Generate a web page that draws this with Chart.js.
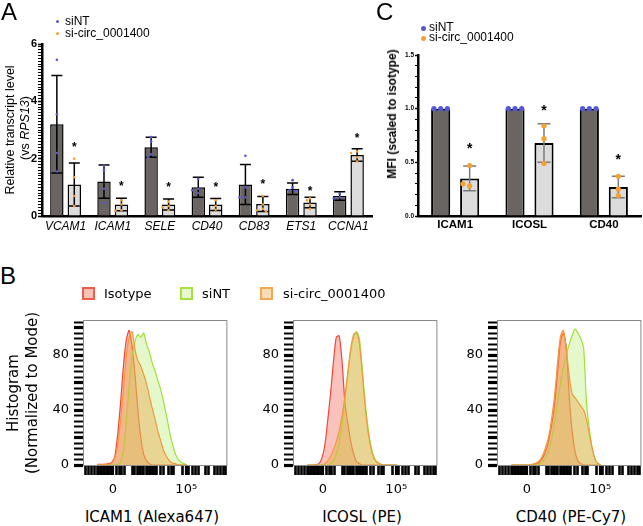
<!DOCTYPE html>
<html>
<head>
<meta charset="utf-8">
<script src="https://cdn.jsdelivr.net/npm/chart.js@4.4.1/dist/chart.umd.min.js"></script>
<style>
  body { margin: 0; width: 643px; height: 526px; position: relative; overflow: hidden; background: #fff;
         font-family: 'Liberation Sans', Arial, sans-serif; color: #000; }
  canvas { position: absolute; }
  .t   { position: absolute; white-space: nowrap; line-height: 1; }
  .c   { position: absolute; white-space: nowrap; line-height: 1; transform: translate(-50%, -50%); }
  .rot { position: absolute; white-space: nowrap; line-height: 1; transform: translate(-50%, -50%) rotate(-90deg); }
  .dot { position: absolute; border-radius: 50%; }
  .box { position: absolute; width: 9px; height: 9px; border: 2px solid; }
  .dj  { font-family: 'DejaVu Sans', sans-serif; }
</style>
</head>
<body>

<canvas id="chartA" width="375" height="240" style="left:0;top:0"></canvas>
<canvas id="chartC" width="263" height="240" style="left:380px;top:0"></canvas>
<canvas id="hist1" width="195" height="205" style="left:38px;top:300px"></canvas>
<canvas id="hist2" width="195" height="205" style="left:248px;top:300px"></canvas>
<canvas id="hist3" width="195" height="205" style="left:452px;top:300px"></canvas>

<!-- panel letters -->
<div class="t" style="left:1px;top:0;font-size:24px">A</div>
<div class="t" style="left:376px;top:0;font-size:24px">C</div>
<div class="t" style="left:0;top:264px;font-size:24px">B</div>

<!-- panel A legend + y title -->
<div class="dot" style="left:55.5px;top:19.5px;width:3px;height:3px;background:#5558d6"></div>
<div class="t" style="left:65px;top:15px;font-size:12px">siNT</div>
<div class="dot" style="left:55.5px;top:31.5px;width:3px;height:3px;background:#f5a030"></div>
<div class="t" style="left:65px;top:27px;font-size:12px">si-circ_0001400</div>
<div class="rot" style="left:10px;top:130px;font-size:12.5px">Relative transcript level</div>
<div class="rot" style="left:25px;top:128px;font-size:12.5px">(vs <i>RPS13</i>)</div>

<!-- panel C legend + y title -->
<div class="dot" style="left:420.5px;top:25.5px;width:5px;height:5px;background:#5558d6"></div>
<div class="t" style="left:429px;top:21px;font-size:12px">siNT</div>
<div class="dot" style="left:420.5px;top:35.5px;width:5px;height:5px;background:#f5a030"></div>
<div class="t" style="left:429px;top:31px;font-size:12px">si-circ_0001400</div>
<div class="rot" style="left:392px;top:114px;font-size:12px;font-weight:bold">MFI (scaled to isotype)</div>

<!-- panel B legend + titles -->
<div class="box" style="left:82px;top:287px;border-color:#f25a4a;background:#f7c2b5"></div>
<div class="t dj" style="left:104px;top:287px;font-size:13px">Isotype</div>
<div class="box" style="left:180px;top:287px;border-color:#a6e23e;background:#e6f8cc"></div>
<div class="t dj" style="left:202px;top:287px;font-size:13px">siNT</div>
<div class="box" style="left:260px;top:287px;border-color:#f2a850;background:#f8deb6"></div>
<div class="t dj" style="left:283px;top:287px;font-size:13px">si-circ_0001400</div>
<div class="rot dj" style="left:13px;top:393px;font-size:15px">Histogram</div>
<div class="rot dj" style="left:32px;top:393px;font-size:15px">(Normalized to Mode)</div>
<div class="c dj" style="left:152px;top:517px;font-size:15px">ICAM1 (Alexa647)</div>
<div class="c dj" style="left:362px;top:517px;font-size:15px">ICOSL (PE)</div>
<div class="c dj" style="left:571px;top:517px;font-size:15px">CD40 (PE-Cy7)</div>

<script>
// ── Panel A: relative transcript level ──────────────────────────────────────
const genesA  = ['VCAM1', 'ICAM1', 'SELE', 'CD40', 'CD83', 'ETS1', 'CCNA1'];
const ntMeanA = [3.2, 1.2, 2.4, 1.0, 1.1, 0.95, 0.7];
const ntSdA   = [1.7, 0.58, 0.35, 0.35, 0.7, 0.2, 0.15];
const siMeanA = [1.1, 0.4, 0.4, 0.4, 0.42, 0.47, 2.13];
const siSdA   = [0.75, 0.22, 0.19, 0.21, 0.26, 0.18, 0.22];
const ntPtsA  = [[5.45, 3.55, 2.2, 1.55], [1.75, 1.6, 0.95, 0.45], [2.75, 2.6, 2.15, 2.05],
                 [1.3, 0.95, 0.9, 0.8], [2.1, 1.0, 0.65, 0.65], [1.25, 1.0, 0.9, 0.87], [0.78, 0.65, 0.62]];
const siPtsA  = [[2.0, 1.35, 0.7, 0.35], [0.55, 0.4, 0.2, 0.18], [0.5, 0.35, 0.3, 0.2],
                 [0.55, 0.35, 0.22], [0.7, 0.4, 0.25, 0.2, 0.15], [0.62, 0.55, 0.4, 0.25], [2.25, 2.2, 2.05, 1.9]];
const starsA  = [2.5, 1.15, 1.1, 1.1, 1.2, 0.98, 2.82];

// ── Panel C: MFI scaled to isotype ──────────────────────────────────────────
const markersC = ['ICAM1', 'ICOSL', 'CD40'];
const ntMeanC  = [1.0, 1.0, 1.0];
const ntPtsC   = [[1, 1, 1], [1, 1, 1], [1, 1, 1]];
const siMeanC  = [0.35, 0.68, 0.27];
const siSdC    = [0.115, 0.18, 0.10];
const siPtsC   = [[0.28, 0.47, 0.30], [0.84, 0.72, 0.49], [0.37, 0.25, 0.19]];
const starsC   = [0.66, 1.01, 0.56];

// ── Panel B: flow histograms (x in display units 0–100, y = % of mode) ─────
const histX = [10, 14, 18, 20, 22, 24, 26, 28, 30, 32, 34, 36, 38, 40, 42,
               44, 46, 48, 50, 52, 54, 56, 58, 60, 62, 64, 66, 68, 70, 72];
const icamIso = [0.5, 0.5, 1, 2, 6, 22, 45, 72, 91, 98, 86, 66, 40, 20, 8, 3, 1, 0, 0, 0, 0, 0, 0, 0, 0, 0, 0, 0, 0, 0];
const icamNT  = [0, 0, 0, 0, 0, 0.5, 2, 10, 32, 58, 79, 90, 95, 93, 96, 88, 82, 74, 68, 61, 54, 45, 35, 24, 15, 8, 4, 2, 1, 0];
const icamSi  = [0, 0.3, 0.5, 1.5, 5, 14, 32, 55, 79, 93, 97, 84, 76, 72, 66, 59, 50, 41, 33, 24, 17, 10, 6, 3, 1.5, 1, 0, 0, 0, 0];
const icosIso = [0, 0, 1, 5, 14, 32, 52, 75, 93, 94, 75, 45, 30, 17, 8, 2.5, 1, 0, 0, 0, 0, 0, 0, 0, 0, 0, 0, 0, 0, 0];
const icosNT  = [0, 0, 0, 0, 0, 0, 1, 3, 8, 16, 30, 48, 66, 83, 93, 97, 92, 70, 46, 27, 14, 6, 2.5, 1, 0, 0, 0, 0, 0, 0];
const icosSi  = [0, 0, 0, 0, 1, 3, 6, 11, 17, 25, 36, 50, 68, 85, 95, 96, 88, 66, 42, 24, 12, 5, 2, 1, 0, 0, 0, 0, 0, 0];
const cd40Iso = [0, 0, 0, 0, 0, 0, 0.5, 1, 3, 6, 11, 19, 30, 45, 68, 90, 96, 85, 50, 25, 10, 3, 1, 0, 0, 0, 0, 0, 0, 0];
const cd40NT  = [0, 0, 0, 0, 0, 0, 0, 0.5, 1, 3, 6, 11, 20, 32, 46, 60, 72, 80, 88, 94, 99, 96, 92, 85, 45, 26, 12, 4, 1, 0];
const cd40Si  = [0, 0, 0, 0, 0, 0.5, 1, 2, 4, 8, 14, 22, 35, 52, 75, 94, 98, 84, 65, 52, 49, 46, 43, 40, 33, 22, 12, 4, 1, 0];

// logicle-style tick marks along the bottom, and the two labelled ones
const histTickPos  = [2, 4, 6, 8, 10, 11, 12, 13, 14, 15, 16, 17, 18, 19, 20.7, 23, 25, 27, 29,
                      34, 36, 38, 39, 40, 41, 42, 44, 45, 46, 47, 48, 49, 50, 51, 54, 56, 59, 61, 63,
                      69, 71.5, 73, 76, 78, 80, 85, 87, 91, 93, 95, 97, 99];
const histTickVals = [20.7, 71.5];
const histTickText = ['0', '10\u2075'];

// ── Colours ─────────────────────────────────────────────────────────────────
const DARK   = '#6a6562';
const LIGHT  = '#dcdcdc';
const BLUE   = '#5558d6';
const ORANGE = '#f5a030';

Chart.defaults.font.family = "'Liberation Sans', Arial, sans-serif";
Chart.defaults.color = '#000';

// simple swarm: put each dot at the first x slot that doesn't collide
function swarm(pys, r, step) {
  const placed = [];
  const slots = [0, -1, 1, -2, 2, -3, 3];
  return pys.map(py => {
    let off = 0;
    for (const s of slots) {
      const ox = s * step;
      if (!placed.some(p => Math.hypot(p.x - ox, p.y - py) < 2 * r + 0.8)) { off = ox; break; }
    }
    placed.push({ x: off, y: py });
    return off;
  });
}

// error bars, individual replicates and significance stars on top of the bars
function makeOverlay(name, groups, style) {
  return {
    id: 'overlay' + name,
    afterDatasetsDraw(chart) {
      const ctx = chart.ctx;
      const ys  = chart.scales.y;
      groups.forEach((g, di) => {
        const meta = chart.getDatasetMeta(di);
        meta.data.forEach((bar, i) => {
          const x = bar.x;
          ctx.save();
          if (g.sd) {
            const yt = ys.getPixelForValue(g.mean[i] + g.sd[i]);
            const yb = ys.getPixelForValue(g.mean[i] - g.sd[i]);
            ctx.strokeStyle = g.errColor;
            ctx.lineWidth   = style.errWidth;
            ctx.beginPath();
            ctx.moveTo(x, yt); ctx.lineTo(x, yb);
            ctx.moveTo(x - style.cap, yt); ctx.lineTo(x + style.cap, yt);
            ctx.moveTo(x - style.cap, yb); ctx.lineTo(x + style.cap, yb);
            ctx.stroke();
          }
          const pys  = g.pts[i].map(v => ys.getPixelForValue(v));
          const offs = swarm(pys, style.dotR, style.dotStep);
          ctx.fillStyle = g.dotColor;
          pys.forEach((py, k) => {
            ctx.beginPath();
            ctx.arc(x + offs[k], py, style.dotR, 0, Math.PI * 2);
            ctx.fill();
          });
          if (g.stars) {
            const sy = ys.getPixelForValue(g.stars[i]);
            ctx.fillStyle = '#000';
            ctx.font = 'bold ' + style.starSize + "px 'Liberation Sans', Arial";
            ctx.textAlign = 'center';
            ctx.textBaseline = 'alphabetic';
            ctx.fillText('*', x, sy + style.starSize * 0.55);
          }
          ctx.restore();
        });
      });
    }
  };
}

function barOptions(o) {
  return {
    responsive: false,
    animation: false,
    events: [],
    layout: { padding: { top: o.top, right: o.right, left: 0, bottom: 0 } },
    plugins: { legend: { display: false }, tooltip: { enabled: false } },
    scales: {
      x: {
        z: 1,
        grid: { display: false, drawTicks: false },
        border: { color: '#000', width: 2.5 },
        ticks: { color: '#000', font: o.xFont, padding: o.xPad, maxRotation: 0, autoSkip: false },
        afterFit: s => { s.height = o.xHeight; },
      },
      y: {
        min: 0,
        max: o.yMax,
        border: { color: '#000', width: 2.5 },
        grid: {
          display: true, drawOnChartArea: false, drawTicks: true,
          tickLength: o.tickLen, tickColor: '#000',
          tickWidth: c => (c.tick && o.isMajor(c.tick.value)) ? 1.6 : 1,
        },
        ticks: {
          stepSize: 0.1, autoSkip: false, color: '#000', padding: 1,
          font: o.yFont,
          callback: v => o.isMajor(v) ? o.fmt(v) : '',
        },
        afterFit: s => { s.width = o.yWidth; },
      },
    },
  };
}

// ── Panel A chart ───────────────────────────────────────────────────────────
new Chart(document.getElementById('chartA'), {
  type: 'bar',
  data: {
    labels: genesA,
    datasets: [
      { label: 'siNT', data: ntMeanA, backgroundColor: DARK, borderColor: '#000', borderWidth: 1.5,
        categoryPercentage: 0.74, barPercentage: 0.77 },
      { label: 'si-circ_0001400', data: siMeanA, backgroundColor: LIGHT, borderColor: '#000', borderWidth: 1.5,
        categoryPercentage: 0.74, barPercentage: 0.77 },
    ],
  },
  options: barOptions({
    top: 44, right: 3, xHeight: 24, yWidth: 42, yMax: 6, tickLen: 4, xPad: 3,
    xFont: { size: 12, style: 'italic' },
    yFont: { size: 11, weight: 'bold' },
    isMajor: v => { const r = Math.round(v); return Math.abs(v - r) < 1e-6 && r % 2 === 0; },
    fmt: v => String(Math.round(v)),
  }),
  plugins: [makeOverlay('A', [
    { mean: ntMeanA, sd: ntSdA, pts: ntPtsA, errColor: '#000', dotColor: BLUE },
    { mean: siMeanA, sd: siSdA, pts: siPtsA, errColor: '#000', dotColor: ORANGE, stars: starsA },
  ], { errWidth: 1.5, cap: 5.5, dotR: 1.3, dotStep: 3, starSize: 12 })],
});

// ── Panel C chart ───────────────────────────────────────────────────────────
new Chart(document.getElementById('chartC'), {
  type: 'bar',
  data: {
    labels: markersC,
    datasets: [
      { label: 'siNT', data: ntMeanC, backgroundColor: DARK, borderColor: '#000', borderWidth: 2,
        categoryPercentage: 0.78, barPercentage: 0.66 },
      { label: 'si-circ_0001400', data: siMeanC, backgroundColor: LIGHT, borderColor: '#000', borderWidth: 2,
        categoryPercentage: 0.78, barPercentage: 0.66 },
    ],
  },
  options: barOptions({
    top: 55, right: 2, xHeight: 24, yWidth: 38, yMax: 1.5, tickLen: 3, xPad: 2,
    xFont: { size: 11.5, weight: 'bold' },
    yFont: { size: 6.5, weight: 'bold' },
    isMajor: v => { const r = Math.round(v * 2); return Math.abs(v * 2 - r) < 1e-6; },
    fmt: v => (Math.round(v * 2) / 2).toFixed(1),
  }),
  plugins: [makeOverlay('C', [
    { mean: ntMeanC, pts: ntPtsC, errColor: '#777', dotColor: BLUE },
    { mean: siMeanC, sd: siSdC, pts: siPtsC, errColor: '#7a7a7a', dotColor: ORANGE, stars: starsC },
  ], { errWidth: 1.5, cap: 6.5, dotR: 2.6, dotStep: 6.7, starSize: 14 })],
});

// ── Panel B histograms ──────────────────────────────────────────────────────
const framePlugin = {
  id: 'frame',
  afterDatasetsDraw(chart) {
    const { ctx, chartArea: a } = chart;
    ctx.save();
    ctx.strokeStyle = '#8a8a8a';
    ctx.lineWidth = 1;
    ctx.strokeRect(a.left + 0.5, a.top + 0.5, a.right - a.left - 1, a.bottom - a.top);
    ctx.restore();
  },
};

function curve(label, ys, line, fill) {
  return {
    label,
    data: histX.map((x, i) => ({ x, y: ys[i] })),
    borderColor: line,
    backgroundColor: fill,
    borderWidth: 1.2,
    pointRadius: 0,
    tension: 0.25,
    fill: 'origin',
  };
}

function histChart(id, iso, nt, si) {
  new Chart(document.getElementById(id), {
    type: 'line',
    data: {
      // last dataset is painted first, so isotype sits underneath
      datasets: [
        curve('si-circ_0001400', si, '#f09a3c', 'rgba(236,165,70,0.42)'),
        curve('siNT', nt, '#9ee236', 'rgba(180,236,110,0.35)'),
        curve('Isotype', iso, '#f2453a', 'rgba(242,110,95,0.42)'),
      ],
    },
    options: {
      responsive: false,
      animation: false,
      events: [],
      layout: { padding: { top: 20, right: 5, left: 0, bottom: 0 } },
      plugins: { legend: { display: false }, tooltip: { enabled: false } },
      scales: {
        x: {
          type: 'linear', min: 0, max: 100,
          border: { display: false },
          grid: { display: true, drawOnChartArea: false, drawTicks: true, tickLength: 10,
                  tickColor: '#000', tickWidth: c => (c.tick && histTickVals.includes(c.tick.value)) ? 3.2 : 2.6 },
          afterBuildTicks: s => { s.ticks = histTickPos.map(v => ({ value: v })); },
          ticks: {
            autoSkip: false, maxRotation: 0, padding: 7, color: '#000',
            font: { family: "'DejaVu Sans', sans-serif", size: 13 },
            callback: v => { const k = histTickVals.indexOf(v); return k >= 0 ? histTickText[k] : ''; },
          },
          afterFit: s => { s.height = 40; },
        },
        y: {
          min: 0, max: 105.5,
          border: { display: false },
          grid: { display: true, drawOnChartArea: false, drawTicks: true, tickLength: 9,
                  tickColor: '#000', tickWidth: c => (c.tick && c.tick.value % 20 === 0) ? 3.2 : 2 },
          ticks: {
            stepSize: 4, autoSkip: false, includeBounds: false, padding: 5, color: '#000',
            font: { family: "'DejaVu Sans', sans-serif", size: 13 },
            callback: v => (v % 40 === 0 ? String(v) : ''),
          },
          afterFit: s => { s.width = 45; },
        },
      },
    },
    plugins: [framePlugin],
  });
}

histChart('hist1', icamIso, icamNT, icamSi);
histChart('hist2', icosIso, icosNT, icosSi);
histChart('hist3', cd40Iso, cd40NT, cd40Si);
</script>
</body>
</html>
